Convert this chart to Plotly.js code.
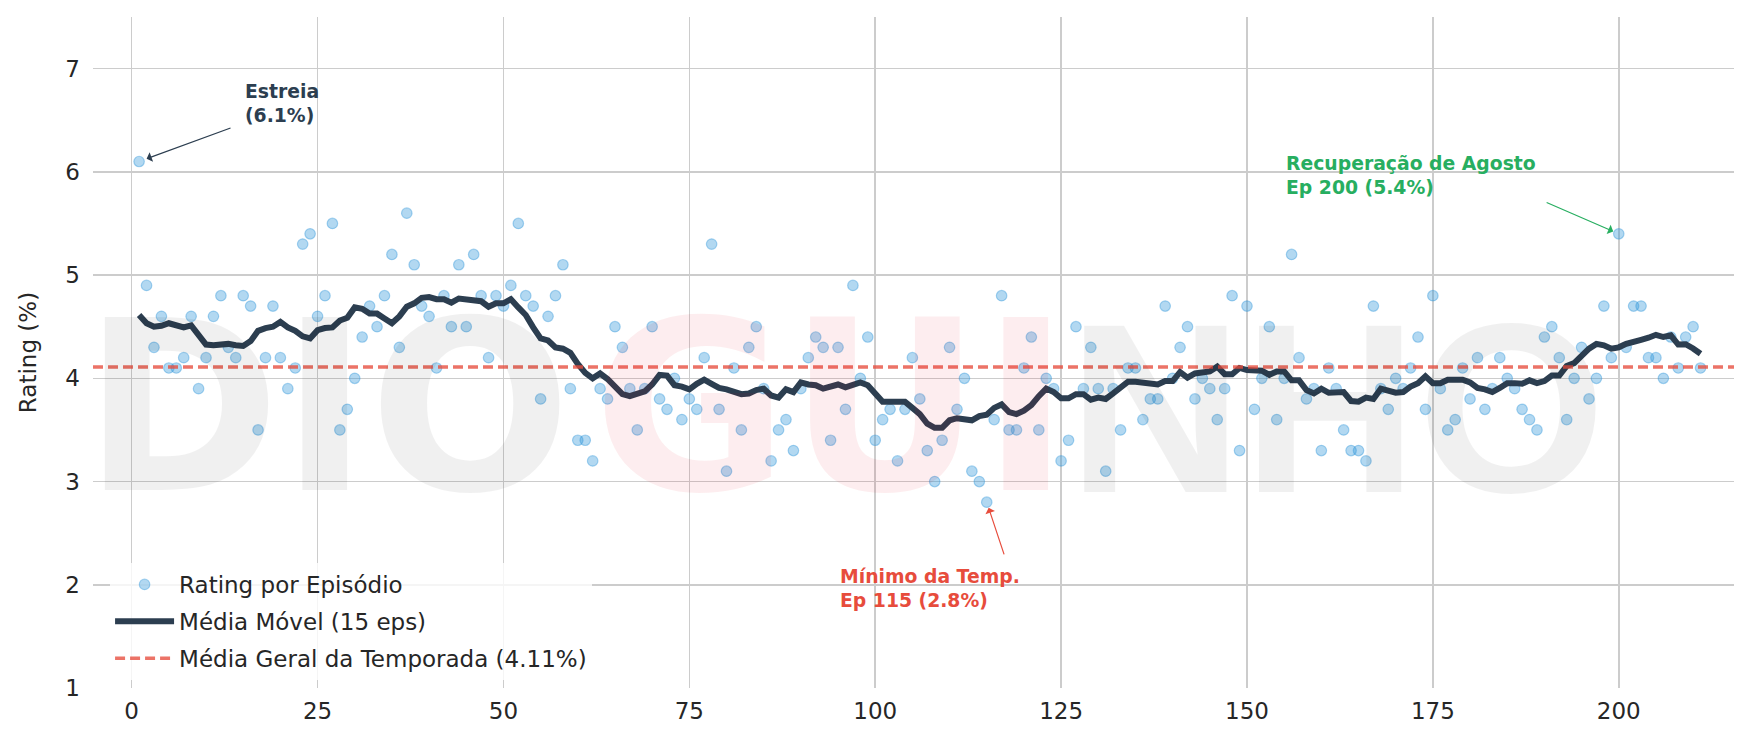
<!DOCTYPE html>
<html>
<head>
<meta charset="utf-8">
<script src="https://cdn.plot.ly/plotly-3.0.1.min.js"></script>
<style>html,body{margin:0;padding:0;background:#fff;}#chart{width:1755px;height:745px;}</style>
</head>
<body>
<div id="chart"></div>
<script>
// ---- data ----
const ratings = [
  6.1,4.9,4.3,4.6,4.1,4.1,4.2,4.6,3.9,4.2,
  4.6,4.8,4.3,4.2,4.8,4.7,3.5,4.2,4.7,4.2,
  3.9,4.1,5.3,5.4,4.6,4.8,5.5,3.5,3.7,4.0,
  4.4,4.7,4.5,4.8,5.2,4.3,5.6,5.1,4.7,4.6,
  4.1,4.8,4.5,5.1,4.5,5.2,4.8,4.2,4.8,4.7,
  4.9,5.5,4.8,4.7,3.8,4.6,4.8,5.1,3.9,3.4,
  3.4,3.2,3.9,3.8,4.5,4.3,3.9,3.5,3.9,4.5,
  3.8,3.7,4.0,3.6,3.8,3.7,4.2,5.3,3.7,3.1,
  4.1,3.5,4.3,4.5,3.9,3.2,3.5,3.6,3.3,3.9,
  4.2,4.4,4.3,3.4,4.3,3.7,4.9,4.0,4.4,3.4,
  3.6,3.7,3.2,3.7,4.2,3.8,3.3,3.0,3.4,4.3,
  3.7,4.0,3.1,3.0,2.8,3.6,4.8,3.5,3.5,4.1,
  4.4,3.5,4.0,3.9,3.2,3.4,4.5,3.9,4.3,3.9,
  3.1,3.9,3.5,4.1,4.1,3.6,3.8,3.8,4.7,4.0,
  4.3,4.5,3.8,4.0,3.9,3.6,3.9,4.8,3.3,4.7,
  3.7,4.0,4.5,3.6,4.0,5.2,4.2,3.8,3.9,3.3,
  4.1,3.9,3.5,3.3,3.3,3.2,4.7,3.9,3.7,4.0,
  3.9,4.1,4.4,3.7,4.8,3.9,3.5,3.6,4.1,3.8,
  4.2,3.7,3.9,4.2,4.0,3.9,3.7,3.6,3.5,4.4,
  4.5,4.2,3.6,4.0,4.3,3.8,4.0,4.7,4.2,5.4,
  4.3,4.7,4.7,4.2,4.2,4.0,4.4,4.1,4.4,4.5,
  4.1
];
const episodes = ratings.map((_, i) => i + 1);
const seasonMean = 4.11;
const rollingWindow = 15;
const xTicks = [0, 25, 50, 75, 100, 125, 150, 175, 200];
const yTicks = [1, 2, 3, 4, 5, 6, 7];
const seriesNames = ['Rating por Episódio', 'Média Móvel (15 eps)', 'Média Geral da Temporada (4.11%)'];
const highlightPremiere = 1, highlightMin = 115, highlightAug = 200;

// centered rolling mean (window 15, partial windows at the edges)
const half = Math.floor(rollingWindow / 2);
const movingAvg = ratings.map((_, i) => {
  let s = 0, n = 0;
  for (let j = Math.max(0, i - half); j <= Math.min(ratings.length - 1, i + half); j++) { s += ratings[j]; n++; }
  return s / n;
});

const xRange = [-5.2, 215.5];
const yRange = [1, 7.5];
const FONT = 'DejaVu Sans, sans-serif';

const traces = [
  {
    type: 'scatter', mode: 'markers', x: episodes, y: ratings, name: seriesNames[0],
    legendgroup: 'a',
    marker: { size: 10.5, color: 'rgba(52,152,219,0.38)', line: { color: 'rgba(52,152,219,0.42)', width: 1.2 } },
    hoverinfo: 'x+y'
  },
  {
    type: 'scatter', mode: 'lines', x: episodes, y: movingAvg, name: seriesNames[1],
    legendgroup: 'b',
    line: { color: '#2c3e50', width: 6 }
  },
  {
    type: 'scatter', mode: 'lines', x: xRange, y: [seasonMean, seasonMean], name: seriesNames[2],
    legendgroup: 'c',
    line: { color: 'rgba(231,76,60,0.78)', width: 3.5, dash: '10px,5px' }
  }
];

function idx(ep) { return episodes.indexOf(ep); }

const annFont = { family: FONT, size: 18.8, weight: 'bold' };
const wmY = 0.418;
const annotations = [
  // watermark
  { xref: 'paper', yref: 'paper', x: 0.1426, y: wmY, xanchor: 'center', yanchor: 'middle', showarrow: false,
    text: '<b>DIO</b>', font: { family: 'DejaVu Sans', size: 238, color: 'rgba(0,0,0,0.06)' } },
  { xref: 'paper', yref: 'paper', x: 0.4503, y: wmY, xanchor: 'center', yanchor: 'middle', showarrow: false,
    text: '<b>GUI</b>', font: { family: 'DejaVu Sans', size: 238, color: 'rgba(228,2,28,0.07)' } },
  { xref: 'paper', yref: 'paper', x: 0.758, y: wmY, xanchor: 'center', yanchor: 'middle', showarrow: false,
    text: '<b>NHO</b>', font: { family: 'Liberation Sans', size: 242, color: 'rgba(0,0,0,0.06)' } },
  // premiere
  { x: 15, y: 6.5, xanchor: 'left', yanchor: 'bottom', yshift: -8, align: 'left', showarrow: false,
    text: '<b>Estreia</b><br><b>(6.1%)</b>', font: Object.assign({}, annFont, { color: '#2c3e50' }) },
  { x: episodes[idx(highlightPremiere)], y: ratings[idx(highlightPremiere)], ax: 13.5, ay: 6.43, axref: 'x', ayref: 'y',
    text: '', showarrow: true, arrowhead: 1, arrowsize: 1.4, arrowwidth: 1.2, arrowcolor: '#2c3e50', standoff: 8 },
  // minimum
  { x: 95, y: 1.8, xanchor: 'left', yanchor: 'bottom', yshift: -8, align: 'left', showarrow: false,
    text: '<b>Mínimo da Temp.</b><br><b>Ep 115 (2.8%)</b>', font: Object.assign({}, annFont, { color: '#e74c3c' }) },
  { x: episodes[idx(highlightMin)], y: ratings[idx(highlightMin)], ax: 117.4, ay: 2.28, axref: 'x', ayref: 'y',
    text: '', showarrow: true, arrowhead: 1, arrowsize: 1.4, arrowwidth: 1.2, arrowcolor: '#e74c3c', standoff: 6 },
  // august recovery
  { x: 155, y: 5.8, xanchor: 'left', yanchor: 'bottom', yshift: -8, align: 'left', showarrow: false,
    text: '<b>Recuperação de Agosto</b><br><b>Ep 200 (5.4%)</b>', font: Object.assign({}, annFont, { color: '#27ae60' }) },
  { x: episodes[idx(highlightAug)], y: ratings[idx(highlightAug)], ax: 190.1, ay: 5.71, axref: 'x', ayref: 'y',
    text: '', showarrow: true, arrowhead: 1, arrowsize: 1.4, arrowwidth: 1.2, arrowcolor: '#27ae60', standoff: 6 }
];

const axisCommon = {
  showgrid: true, gridcolor: '#cccccc', gridwidth: 1.5, zeroline: false, showline: false,
  ticks: '', tickfont: { family: FONT, size: 23, color: '#262626' }
};

const layout = {
  width: 1755, height: 745,
  margin: { l: 93, r: 21, t: 17, b: 57 },
  paper_bgcolor: '#ffffff', plot_bgcolor: '#ffffff',
  font: { family: FONT, color: '#262626' },
  showlegend: true,
  legend: {
    x: 0.0104, y: 0.012, xanchor: 'left', yanchor: 'bottom',
    bgcolor: 'rgba(255,255,255,0.8)', borderwidth: 0,
    font: { family: FONT, size: 23, color: '#262626' },
    traceorder: 'grouped', tracegroupgap: 4, itemwidth: 59
  },
  xaxis: Object.assign({}, axisCommon, { range: xRange, tickvals: xTicks, ticktext: xTicks.map(String), ticklabelstandoff: 7 }),
  yaxis: Object.assign({}, axisCommon, { range: yRange, tickvals: yTicks, ticktext: yTicks.map(String), ticklabelstandoff: 12,
    title: { text: 'Rating (%)', font: { family: FONT, size: 23, color: '#262626' }, standoff: 22 } }),
  annotations: annotations
};

Plotly.newPlot('chart', traces, layout, { staticPlot: true, displayModeBar: false });
</script>
</body>
</html>
